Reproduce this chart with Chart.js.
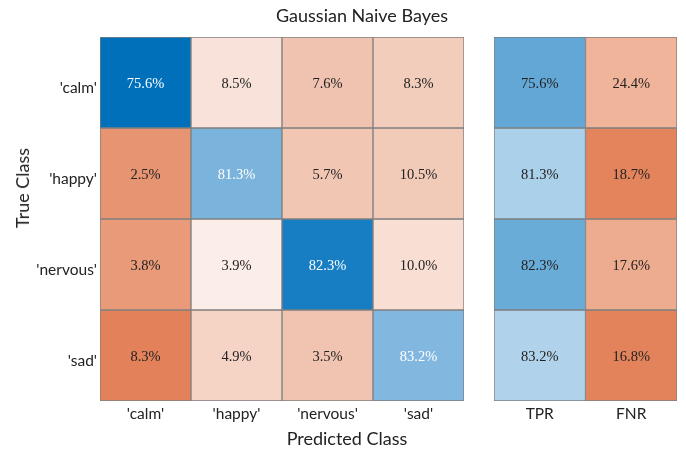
<!DOCTYPE html>
<html>
<head>
<meta charset="utf-8">
<script src="https://cdn.jsdelivr.net/npm/chart.js@4.4.0/dist/chart.umd.min.js"></script>
<style>
  body { margin: 0; background: #fff; }
  #wrap { position: relative; width: 686px; height: 453px; overflow: hidden; font-family: Lato, sans-serif; color: #222; }
  #main { position: absolute; left: 0; top: 0; }
  #side { position: absolute; left: 470px; top: 0; }
  .lbl { position: absolute; white-space: nowrap; font-weight: 400; }
  #title { left: 362px; top: 15px; transform: translate(-50%, -50%); font-size: 18px; }
  #xtitle { left: 347px; top: 438px; transform: translate(-50%, -50%); font-size: 18px; }
  #ytitle { left: 22px; top: 188px; transform: translate(-50%, -50%) rotate(-90deg); font-size: 18px; }
</style>
</head>
<body>
<div id="wrap">
  <canvas id="main" width="470" height="453"></canvas>
  <canvas id="side" width="216" height="453"></canvas>
  <div class="lbl" id="title">Gaussian Naive Bayes</div>
  <div class="lbl" id="xtitle">Predicted Class</div>
  <div class="lbl" id="ytitle">True Class</div>
</div>
<script>
// data
const classes = ["'calm'", "'happy'", "'nervous'", "'sad'"];
const matrix = [
  [75.6, 8.5, 7.6, 8.3],
  [2.5, 81.3, 5.7, 10.5],
  [3.8, 3.9, 82.3, 10.0],
  [8.3, 4.9, 3.5, 83.2]
];
const rateLabels = ["TPR", "FNR"];
const tpr = [75.6, 81.3, 82.3, 83.2];
const fnr = [24.4, 18.7, 17.6, 16.8];

// cell colours (MATLAB shades them from counts)
const matrixColors = [
  ["#0070BB", "#F8E2D9", "#F0C3B0", "#F2CDBC"],
  ["#E79472", "#7AB3DB", "#F1C6B3", "#F2CAB8"],
  ["#E99B79", "#FBEDE8", "#177EC3", "#F8DED3"],
  ["#E3825A", "#F5D3C5", "#F1C4B1", "#82B8E0"]
];
const tprColors = ["#62A7D5", "#ABD0EA", "#6AACD8", "#B0D3EB"];
const fnrColors = ["#F0B49B", "#E3845C", "#EDAB8F", "#E3835B"];
const whiteText = [[0, 0], [1, 1], [2, 2], [3, 3]];

const cellFont = "14.5px 'Liberation Serif', serif";
const tickFont = { family: "Lato", size: 15.5 };

const cellText = {
  id: "cellText",
  afterDatasetsDraw(chart) {
    const ctx = chart.ctx;
    ctx.save();
    ctx.font = cellFont;
    ctx.textAlign = "center";
    ctx.textBaseline = "middle";
    chart.data.datasets.forEach((ds, di) => {
      chart.getDatasetMeta(di).data.forEach((el, i) => {
        const p = el.getProps(["x", "y", "base"], true);
        const white = chart.canvas.id === "main" && whiteText.some(w => w[0] === di && w[1] === i);
        ctx.fillStyle = white ? "#ffffff" : "#222222";
        ctx.fillText(ds.values[i].toFixed(1) + "%", p.x, (p.y + p.base) / 2 + 1.5);
      });
    });
    ctx.restore();
  }
};

function options(leftWidth, showRows) {
  return {
    responsive: false,
    animation: false,
    layout: { padding: { top: 37, right: showRows ? 6 : 9, left: showRows ? 0 : 24, bottom: 0 } },
    plugins: { legend: { display: false }, tooltip: { enabled: false } },
    datasets: { bar: { grouped: false, barPercentage: 1, categoryPercentage: 1, borderSkipped: false } },
    scales: {
      x: {
        grid: { display: false, drawTicks: false },
        border: { display: false },
        ticks: { font: tickFont, color: "#222", padding: 4 },
        afterFit(s) { s.height = 52; }
      },
      y: { type: "linear", min: 0, max: 4, reverse: true, display: false },
      rows: {
        type: "category",
        labels: classes,
        position: "left",
        offset: true,
        display: showRows,
        grid: { display: false, drawTicks: false },
        border: { display: false },
        ticks: { font: tickFont, color: "#222", padding: 3, labelOffset: 5 },
        afterFit(s) { s.width = leftWidth; }
      }
    }
  };
}

new Chart(document.getElementById("main"), {
  type: "bar",
  data: {
    labels: classes,
    datasets: matrix.map((row, r) => ({
      data: row.map(() => [r, r + 1]),
      values: row,
      backgroundColor: matrixColors[r],
      borderColor: "#7F7F7F",
      borderWidth: 1
    }))
  },
  options: options(100, true),
  plugins: [cellText]
});

new Chart(document.getElementById("side"), {
  type: "bar",
  data: {
    labels: rateLabels,
    datasets: tpr.map((t, r) => ({
      data: rateLabels.map(() => [r, r + 1]),
      values: [t, fnr[r]],
      backgroundColor: [tprColors[r], fnrColors[r]],
      borderColor: "#7F7F7F",
      borderWidth: 1
    }))
  },
  options: options(0, false),
  plugins: [cellText]
});
</script>
</body>
</html>
